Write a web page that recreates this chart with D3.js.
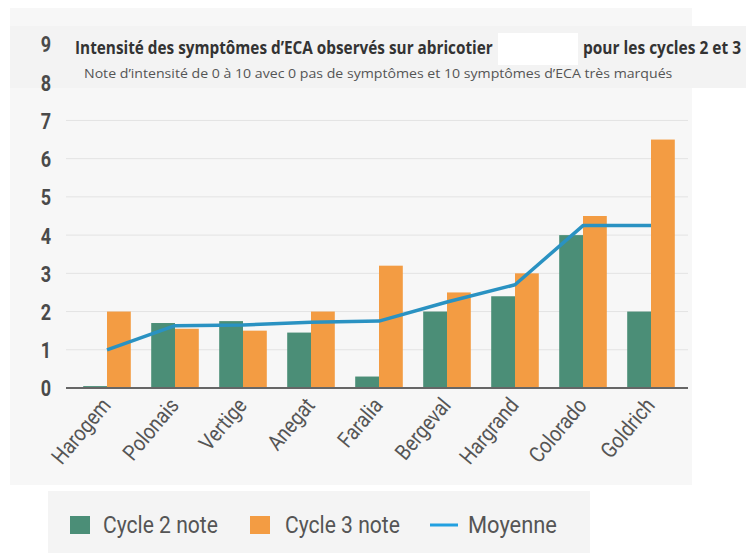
<!DOCTYPE html>
<html>
<head>
<meta charset="utf-8">
<script src="https://cdn.jsdelivr.net/npm/d3@7"></script>
<style>
  body { margin: 0; background: #fff; }
  svg { display: block; font-family: Roboto, "Open Sans", sans-serif; }
</style>
</head>
<body>
<div id="chart"></div>
<script>
// values
const categories = ["Harogem", "Polonais", "Vertige", "Anegat", "Faralia", "Bergeval", "Hargrand", "Colorado", "Goldrich"];
const cycle2 = [0.05, 1.7, 1.75, 1.45, 0.3, 2.0, 2.4, 4.0, 2.0];
const cycle3 = [2.0, 1.55, 1.5, 2.0, 3.2, 2.5, 3.0, 4.5, 6.5];
const moyenne = [1.0, 1.63, 1.65, 1.72, 1.75, 2.25, 2.7, 4.25, 4.25];
const yTicks = [0, 1, 2, 3, 4, 5, 6, 7, 8, 9];
const gridTicks = [1, 2, 3, 4, 5, 6, 7];
const seriesKeys = ["c2", "c3"];
const legendLabels = ["Cycle 2 note", "Cycle 3 note", "Moyenne"];

const titleLeft = "Intensité des symptômes d’ECA observés sur abricotier";
const titleRight = "pour les cycles 2 et 3";
const subtitle = "Note d’intensité de 0 à 10 avec 0 pas de symptômes et 10 symptômes d’ECA très marqués";

const colors = { c2: "#4b8e77", c3: "#f39c43", line: "#2a92c2", legendLine: "#22a0e0" };

const width = 746, height = 555;

const svg = d3.select("#chart").append("svg")
    .attr("width", width)
    .attr("height", height);

// paper panels of the scan
svg.append("rect").attr("x", 10).attr("y", 8).attr("width", 682).attr("height", 477).attr("fill", "#f7f7f7");
svg.append("rect").attr("x", 10).attr("y", 26).attr("width", 736).attr("height", 62).attr("fill", "#f3f3f3");
svg.append("rect").attr("x", 48).attr("y", 491).attr("width", 542).attr("height", 62).attr("fill", "#f4f4f4");

const x = d3.scaleBand()
    .domain(categories)
    .range([73, 685])
    .paddingInner(0.3)
    .paddingOuter(0.15);

const xSub = d3.scaleBand()
    .domain(seriesKeys)
    .range([0, x.bandwidth()]);

const y = d3.scaleLinear()
    .domain([0, 9])
    .range([388, 44]);

// grid
svg.append("g")
    .selectAll("line")
    .data(gridTicks)
    .join("line")
    .attr("x1", 66)
    .attr("x2", 688)
    .attr("y1", d => y(d))
    .attr("y2", d => y(d))
    .attr("stroke", "#e3e3e3")
    .attr("stroke-width", 1);

// y axis labels
const yAxis = svg.append("g")
    .attr("transform", "translate(66,0)")
    .call(d3.axisLeft(y).tickValues(yTicks).tickSize(0).tickPadding(13).tickFormat(d3.format("d")));
yAxis.select(".domain").remove();
yAxis.selectAll("text")
    .attr("font-family", "Roboto, sans-serif")
    .attr("font-size", 22)
    .attr("font-weight", "bold")
    .attr("fill", "#4a4a4a")
    .attr("dy", "0.36em")
    .attr("transform", "scale(0.82,1)")
    .attr("x", -15 / 0.82);

// bars
const rows = categories.map((c, i) => ({ cat: c, c2: cycle2[i], c3: cycle3[i] }));

svg.append("g")
    .selectAll("g")
    .data(rows)
    .join("g")
    .attr("transform", d => "translate(" + x(d.cat) + ",0)")
    .selectAll("rect")
    .data(d => seriesKeys.map(k => ({ key: k, value: d[k] })))
    .join("rect")
    .attr("x", d => xSub(d.key))
    .attr("width", xSub.bandwidth())
    .attr("y", d => y(d.value))
    .attr("height", d => y(0) - y(d.value))
    .attr("fill", d => colors[d.key]);

// baseline
svg.append("line")
    .attr("x1", 66).attr("x2", 688)
    .attr("y1", y(0)).attr("y2", y(0))
    .attr("stroke", "#666")
    .attr("stroke-width", 2);

// average line
const line = d3.line()
    .x((d, i) => x(categories[i]) + x.bandwidth() / 2)
    .y(d => y(d));

svg.append("path")
    .datum(moyenne)
    .attr("fill", "none")
    .attr("stroke", colors.line)
    .attr("stroke-width", 3.5)
    .attr("stroke-linejoin", "round")
    .attr("d", line);

// category labels
svg.append("g")
    .selectAll("text")
    .data(categories)
    .join("text")
    .attr("transform", d => "translate(" + (x(d) + x.bandwidth() / 2 - 1) + ",401) rotate(-50) scale(0.86,1)")
    .attr("text-anchor", "end")
    .attr("dy", "0.35em")
    .attr("font-size", 22)
    .attr("fill", "#555")
    .text(d => d);

// squeeze a text horizontally so it fills a given width
function fitText(sel, x0, y0, w) {
    const natural = sel.node().getComputedTextLength();
    sel.attr("transform", "translate(" + x0 + "," + y0 + ") scale(" + (w / natural) + ",1)");
}

// title
const t1 = svg.append("text")
    .attr("font-family", "'Open Sans', sans-serif")
    .attr("font-weight", "bold")
    .attr("font-size", 17)
    .attr("fill", "#333")
    .text(titleLeft);
fitText(t1, 75, 54, 418);

const t2 = svg.append("text")
    .attr("font-family", "'Open Sans', sans-serif")
    .attr("font-weight", "bold")
    .attr("font-size", 17)
    .attr("fill", "#333")
    .text(titleRight);
fitText(t2, 583, 54, 158);

// masked word in the scan
svg.append("rect").attr("x", 498).attr("y", 33).attr("width", 80).attr("height", 32).attr("fill", "#fff");

const st = svg.append("text")
    .attr("font-family", "'Open Sans', sans-serif")
    .attr("font-size", 13)
    .attr("fill", "#555")
    .text(subtitle);
fitText(st, 84, 78, 589);

// legend
const legendX = [70, 250, 430];
const legendTextX = [103, 285, 468];
const legendTextLen = [115, 115, 89];
const legend = svg.append("g");

legend.append("rect").attr("x", legendX[0]).attr("y", 516).attr("width", 20).attr("height", 18).attr("fill", colors.c2);
legend.append("rect").attr("x", legendX[1]).attr("y", 516).attr("width", 20).attr("height", 18).attr("fill", colors.c3);
legend.append("line")
    .attr("x1", legendX[2]).attr("x2", legendX[2] + 28)
    .attr("y1", 525).attr("y2", 525)
    .attr("stroke", colors.legendLine)
    .attr("stroke-width", 3);

legend.selectAll("text")
    .data(legendLabels)
    .join("text")
    .attr("font-size", 23)
    .attr("fill", "#555")
    .text(d => d)
    .each(function (d, i) {
        fitText(d3.select(this), legendTextX[i], 533, legendTextLen[i]);
    });
</script>
</body>
</html>
